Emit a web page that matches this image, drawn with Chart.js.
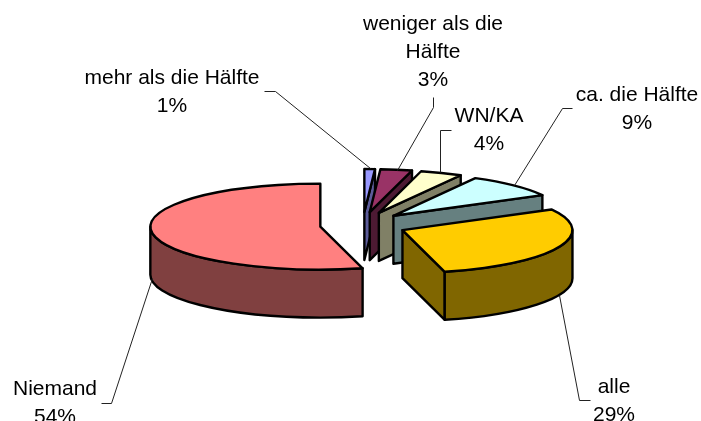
<!DOCTYPE html>
<html><head><meta charset="utf-8">
<style>html,body{margin:0;padding:0;background:#fff}#w{width:701px;height:421px}</style>
<script src="https://cdn.jsdelivr.net/npm/chart.js@4/dist/chart.umd.min.js"></script>
</head><body><div id="w"><canvas id="c" width="701" height="421"></canvas></div>
<script>
const categories = ['mehr als die Hälfte','weniger als die Hälfte','WN/KA','ca. die Hälfte','alle','Niemand'];
const shares = [1,3,4,9,29,54];
const topColors = ['#9999FF','#993366','#FFFFCC','#CCFFFF','#FFCC00','#FF8080'];
const wallColors = ['#5C5C99','#4D1A33','#808066','#668080','#806600','#804040'];
const labelLines = [['mehr als die Hälfte','1%'],['weniger als die','Hälfte','3%'],['WN/KA','4%'],['ca. die Hälfte','9%'],['alle','29%'],['Niemand','54%']];
const labelAnchors = [[172,84],[433,30],[489,122],[637,101],[614,393],[55,395]];
const leaders = [
 [[264,91],[275,91],[370,168]],
 [[433,97],[433,107],[397,170]],
 [[451,130],[440,130],[440,172]],
 [[572,108],[562,108],[514,185]],
 [[559,295],[579,400],[590,400]],
 [[152,278],[111,403],[101,403]]
];
const RX=170, RY=43, DEPTH=48, EX=43, EY=13;

const pie3d = {
  id:'pie3d',
  beforeDatasetDraw(chart, args){
    const ctx=chart.ctx, arcs=args.meta.data;
    const path=(a,cx,cy)=>{ctx.beginPath();ctx.moveTo(cx,cy);ctx.ellipse(cx,cy,RX,RY,0,a.startAngle,a.endAngle);ctx.closePath();};
    ctx.save();ctx.lineJoin='round';ctx.lineCap='round';ctx.strokeStyle='#000';ctx.lineWidth=2.4;
    const order=[5,0,1,2,3,4];
    order.forEach(i=>{
      const a=arcs[i], mid=(a.startAngle+a.endAngle)/2;
      const cx=a.x+EX*Math.cos(mid), cy=a.y+EY*Math.sin(mid);
      const wall=wallColors[i];
      ctx.fillStyle=wall;
      // cut face at the closing edge of the slice
      const ex=cx+RX*Math.cos(a.endAngle), ey=cy+RY*Math.sin(a.endAngle);
      if(Math.sin(a.endAngle+Math.PI/2)>-1e-6 && i!==5){
        ctx.beginPath();ctx.moveTo(cx,cy);ctx.lineTo(ex,ey);ctx.lineTo(ex,ey+DEPTH);ctx.lineTo(cx,cy+DEPTH);ctx.closePath();ctx.fill();ctx.stroke();
      }
      // rim wall on the front half of the ellipse
      const s=Math.max(a.startAngle,0), e=Math.min(a.endAngle,Math.PI);
      if(e>s){
        ctx.beginPath();ctx.ellipse(cx,cy,RX,RY,0,s,e);ctx.ellipse(cx,cy+DEPTH,RX,RY,0,e,s,true);ctx.closePath();ctx.fill();ctx.stroke();
      }
      // top face, filled by the arc element itself under an elliptical transform
      ctx.save();
      ctx.translate(cx,cy);ctx.scale(RX/a.outerRadius,RY/a.outerRadius);ctx.translate(-a.x,-a.y);
      a.draw(ctx);
      ctx.restore();
      path(a,cx,cy);ctx.stroke();
    });
    ctx.restore();
    return false;
  },
  afterDatasetsDraw(chart){
    const ctx=chart.ctx;
    ctx.save();
    ctx.strokeStyle='#222';ctx.lineWidth=1;
    leaders.forEach(p=>{ctx.beginPath();p.forEach((q,j)=>j?ctx.lineTo(q[0]+.5,q[1]+.5):ctx.moveTo(q[0]+.5,q[1]+.5));ctx.stroke();});
    ctx.fillStyle='#000';ctx.font='21px "Liberation Sans", Arial, sans-serif';ctx.textAlign='center';ctx.textBaseline='alphabetic';
    labelLines.forEach((ls,i)=>ls.forEach((t,j)=>ctx.fillText(t,labelAnchors[i][0],labelAnchors[i][1]+j*28)));
    ctx.restore();
  }
};

new Chart(document.getElementById('c'),{
  type:'pie',
  data:{labels:categories,datasets:[{data:shares,backgroundColor:topColors,borderWidth:0}]},
  options:{responsive:false,animation:false,
    layout:{padding:{left:25,top:29}},
    plugins:{legend:{display:false},tooltip:{enabled:false},title:{display:false}}},
  plugins:[pie3d]
});
</script></body></html>
